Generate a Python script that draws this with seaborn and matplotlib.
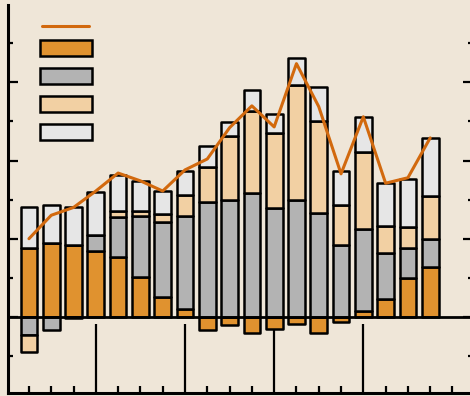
import numpy as np
import pandas as pd
import matplotlib
matplotlib.use("Agg")
import matplotlib.pyplot as plt
import seaborn as sns
from matplotlib.patches import Patch
from matplotlib.lines import Line2D
from matplotlib.ticker import FixedLocator

# ---- data ----
quarters = list(range(19))
orange_vals = [0.88, 0.95, 0.92, 0.84, 0.77, 0.51, 0.26, 0.10, -0.17, -0.10,
               -0.21, -0.16, -0.09, -0.20, -0.06, 0.08, 0.23, 0.50, 0.64]
gray_vals = [-0.23, -0.17, -0.01, 0.21, 0.51, 0.78, 0.96, 1.19, 1.47, 1.50,
             1.59, 1.39, 1.50, 1.33, 0.92, 1.04, 0.59, 0.38, 0.35]
peach_vals = [-0.22, 0.0, 0.0, 0.0, 0.07, 0.07, 0.10, 0.27, 0.45, 0.82,
              1.04, 0.96, 1.47, 1.17, 0.51, 0.99, 0.34, 0.27, 0.55]
light_vals = [0.52, 0.48, 0.48, 0.55, 0.46, 0.38, 0.29, 0.31, 0.27, 0.17,
              0.27, 0.24, 0.34, 0.44, 0.44, 0.45, 0.55, 0.62, 0.75]
line_vals = [1.00, 1.30, 1.40, 1.61, 1.84, 1.74, 1.61, 1.88, 2.02, 2.42,
             2.70, 2.43, 3.24, 2.69, 1.83, 2.56, 1.71, 1.78, 2.29]
year_ticks = [3, 7, 11, 15]
quarter_ticks = [0, 1, 2, 4, 5, 6, 8, 9, 10, 12, 13, 14, 16, 17, 18, 19]

BG = "#EFE6D8"
COLORS = ["#E0922F", "#B3B3B3", "#F2D0A3", "#E6E6E6"]
LINE = "#D2690E"

sns.set_theme(style="ticks")
plt.rcParams["font.family"] = ["DejaVu Sans"]

fig = plt.figure(figsize=(4.7, 3.96), dpi=100, facecolor=BG)
ax = fig.add_axes([8 / 470, 3 / 396, 465 / 470, 388 / 396])
ax.set_facecolor(BG)
ax.set_axisbelow(True)

pos_base = np.zeros(len(quarters))
neg_base = np.zeros(len(quarters))
for vals, col in zip([orange_vals, gray_vals, peach_vals, light_vals], COLORS):
    v = np.array(vals, dtype=float)
    bottom = np.where(v >= 0, pos_base, neg_base)
    df = pd.DataFrame({"q": quarters, "v": v})
    sns.barplot(data=df, x="q", y="v", bottom=bottom, color=col, saturation=1,
                width=0.75, edgecolor="black", linewidth=1.8, joinstyle="round",
                errorbar=None, native_scale=True, ax=ax, zorder=2)
    pos_base += np.where(v > 0, v, 0)
    neg_base += np.where(v < 0, v, 0)

ax.axhline(0, color="black", lw=2.0, zorder=4)
sns.lineplot(x=quarters, y=line_vals, color=LINE, lw=2.2, ax=ax, zorder=5)

ax.set_xlim(-0.94, 19.92)
ax.set_ylim(-0.974, 3.99)
ax.set_xlabel("")
ax.set_ylabel("")

ax.xaxis.set_major_locator(FixedLocator(year_ticks))
ax.xaxis.set_minor_locator(FixedLocator(quarter_ticks))
ax.tick_params(axis="x", which="major", direction="in", length=50, width=1.6,
               color="black", bottom=True, top=False, labelbottom=False)
ax.tick_params(axis="x", which="minor", direction="in", length=5, width=1.6,
               color="black", bottom=True, top=False)
ax.yaxis.set_major_locator(FixedLocator([-1, 0, 1, 2, 3, 4]))
ax.yaxis.set_minor_locator(FixedLocator([-0.5, 0.5, 1.5, 2.5, 3.5]))
ax.tick_params(axis="y", which="major", direction="in", length=7.2, width=1.6,
               color="black", left=True, right=True, labelleft=False, labelright=False)
ax.tick_params(axis="y", which="minor", direction="in", length=3.6, width=1.6,
               color="black", left=True, right=True)

for s in ["top", "right"]:
    ax.spines[s].set_visible(False)
for s in ["left", "bottom"]:
    ax.spines[s].set_linewidth(2.2)
    ax.spines[s].set_color("black")

# legend: line entry, then the four bar series (no labels in the reference)
line_leg = ax.legend([Line2D([], [], color=LINE, lw=2.2)], [""], loc="upper left",
                     bbox_to_anchor=(0.0731, 0.964), frameon=False,
                     handlelength=3.07, handleheight=0.7, borderpad=0,
                     borderaxespad=0, handletextpad=0)
ax.add_artist(line_leg)
patch_handles = [Patch(facecolor=c, edgecolor="black", linewidth=1.8, joinstyle="round")
                 for c in COLORS]
ax.legend(patch_handles, [""] * 4, loc="upper left", bbox_to_anchor=(0.069, 0.9098),
          frameon=False, handlelength=3.4, handleheight=1.25, labelspacing=0.77,
          borderpad=0, borderaxespad=0, handletextpad=0)

fig.savefig("out.png", dpi=100, facecolor=BG)
